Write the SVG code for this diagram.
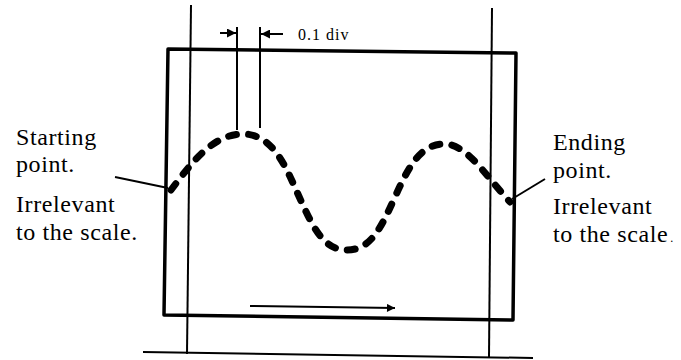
<svg xmlns="http://www.w3.org/2000/svg" width="681" height="360" viewBox="0 0 681 360">
<style>
.ln{stroke:#000;stroke-width:2;fill:none}
.thick{stroke:#000;stroke-width:3.5;fill:none;stroke-linejoin:round}
.lbl{font-family:"Liberation Serif","Times New Roman",serif;font-size:24px;letter-spacing:0.6px;fill:#000}
.sm{font-family:"Liberation Serif","Times New Roman",serif;font-size:16px;letter-spacing:1px;fill:#000}
.wave{stroke:#000;stroke-width:7;fill:none;stroke-linecap:round;stroke-dasharray:8 12}
</style>
<defs>
<marker id="ah" viewBox="0 0 10 10" refX="10" refY="5" markerWidth="11" markerHeight="9" markerUnits="userSpaceOnUse" orient="auto"><path d="M0,0 L10,5 L0,10 z" fill="#000"/></marker>
<marker id="ahb" viewBox="0 0 10 10" refX="10" refY="5" markerWidth="14" markerHeight="8" markerUnits="userSpaceOnUse" orient="auto"><path d="M0,0 L10,5 L0,10 z" fill="#000"/></marker>
</defs>
<g id="screen">
<path class="thick" d="M168,49 L516,53 L513,320 L164,315 Z"/>
</g>
<g id="frame">
<line class="ln" x1="191" y1="5" x2="187" y2="354"/>
<line class="ln" x1="492" y1="8" x2="489" y2="357"/>
<line class="ln" x1="143" y1="352" x2="533" y2="358"/>
</g>
<g id="trace">
<path class="wave" d="M171,190 C190,165 212,134 243,134 C272,134 285,165 297,192 C312,225 322,250 347,250 C372,250 382,225 395,197 C408,168 420,144 444,144 C467,144 485,175 510,202"/>
</g>
<g id="connectors">
<line class="ln" x1="237" y1="27" x2="237" y2="130"/>
<line class="ln" x1="260" y1="27" x2="260" y2="128"/>
<line class="ln" x1="220" y1="33" x2="236" y2="33" marker-end="url(#ah)"/>
<line class="ln" x1="283" y1="34" x2="261" y2="34" marker-end="url(#ah)"/>
<line class="ln" x1="115" y1="177" x2="168" y2="188"/>
<line class="ln" x1="545" y1="179" x2="512" y2="199"/>
<line class="ln" x1="250" y1="306" x2="395" y2="308" marker-end="url(#ahb)"/>
</g>
<g id="scale-label">
<text class="sm" x="298" y="40">0.1 div</text>
</g>
<g id="start-label">
<text class="lbl" x="16" y="145">Starting</text>
<text class="lbl" x="16" y="172">point.</text>
<text class="lbl" x="16" y="212">Irrelevant</text>
<text class="lbl" x="16" y="240">to the scale.</text>
</g>
<g id="end-label">
<text class="lbl" x="553" y="150">Ending</text>
<text class="lbl" x="553" y="178">point.</text>
<text class="lbl" x="553" y="214">Irrelevant</text>
<text class="lbl" x="553" y="242">to the scale<tspan font-size="12" dx="2">.</tspan></text>
</g>
</svg>
